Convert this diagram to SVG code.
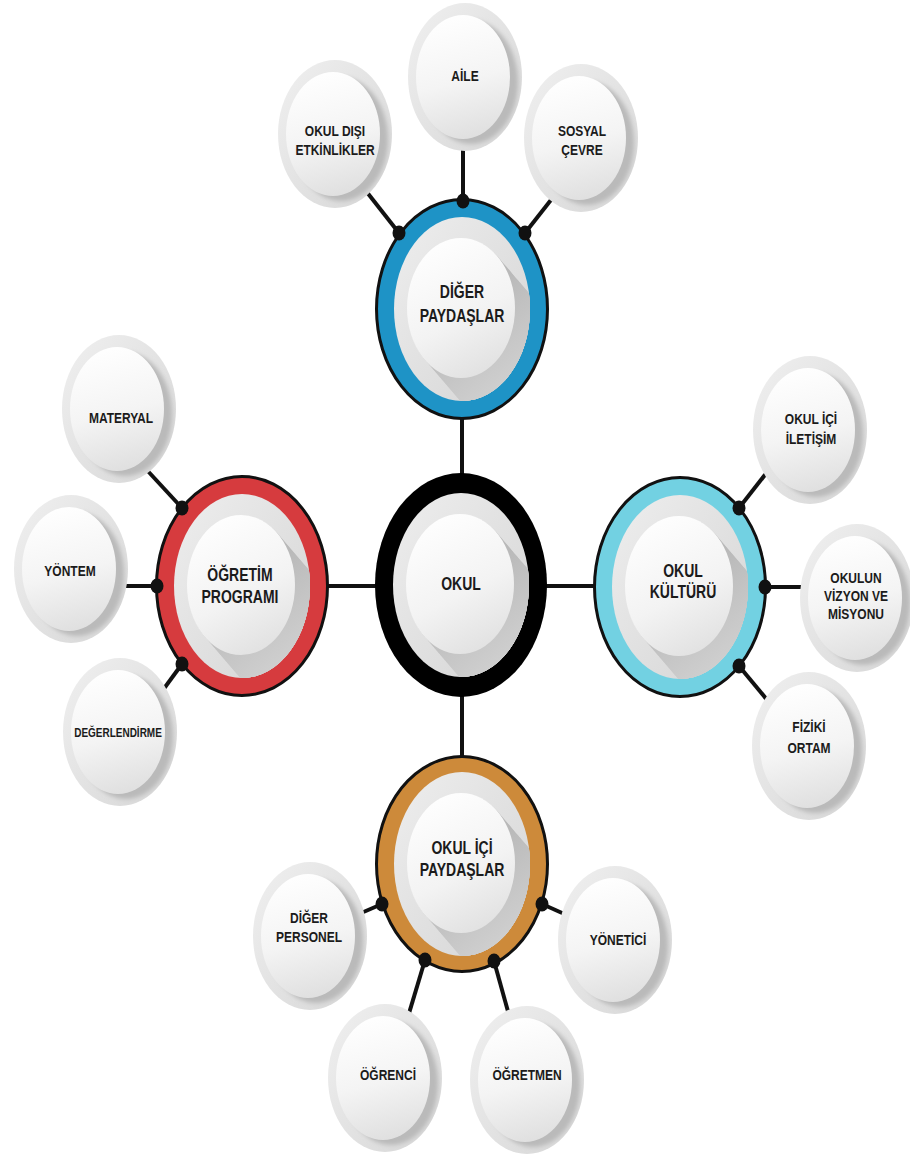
<svg xmlns="http://www.w3.org/2000/svg" xmlns:xlink="http://www.w3.org/1999/xlink" width="910" height="1156" viewBox="0 0 910 1156">
<style>
  .t{font-family:"Liberation Sans","DejaVu Sans",Arial,sans-serif;font-weight:bold;fill:#1b1b1b;text-anchor:middle}
  .h{font-size:14px}
  .s{font-size:12px}
  .band{stroke:#111;stroke-width:3}
  .blue{fill:#1e93c6}.red{fill:#d63b3e}.cyan{fill:#72d1e2}.orange{fill:#cd8a3a}
  .ln{stroke:#111;stroke-width:4;fill:none;stroke-linecap:butt}
  .dot{fill:#111}
</style>
<defs>
  <linearGradient id="ringGrad" x1="0" y1="0" x2="1" y2="1">
    <stop offset="0" stop-color="#eeeeee"/>
    <stop offset="1" stop-color="#d4d4d4"/>
  </linearGradient>
  <linearGradient id="whiteGrad" x1="0.2" y1="0" x2="0.6" y2="1">
    <stop offset="0" stop-color="#ffffff"/>
    <stop offset="0.6" stop-color="#f3f3f3"/>
    <stop offset="1" stop-color="#e2e2e2"/>
  </linearGradient>
  <linearGradient id="hubShadow" gradientUnits="userSpaceOnUse" x1="0" y1="0" x2="70" y2="90">
    <stop offset="0" stop-color="#b9b9b9"/>
    <stop offset="1" stop-color="#d6d6d6"/>
  </linearGradient>
  <linearGradient id="satOuter" x1="0" y1="0" x2="1" y2="1">
    <stop offset="0" stop-color="#f0f0f0"/>
    <stop offset="1" stop-color="#d6d6d6"/>
  </linearGradient>
  <linearGradient id="satInner" x1="0.3" y1="0" x2="0.5" y2="1">
    <stop offset="0" stop-color="#ffffff"/>
    <stop offset="0.55" stop-color="#f4f4f4"/>
    <stop offset="1" stop-color="#e0e0e0"/>
  </linearGradient>
  <clipPath id="hubClip"><ellipse cx="0" cy="0" rx="68" ry="92"/></clipPath>
  <clipPath id="satClip"><ellipse cx="0" cy="0" rx="57" ry="74"/></clipPath>
  <filter id="soft" x="-20%" y="-20%" width="140%" height="140%"><feGaussianBlur stdDeviation="2"/></filter>
  <g id="hubCore">
    <ellipse cx="0" cy="0" rx="68" ry="92" fill="url(#ringGrad)"/>
    <g clip-path="url(#hubClip)" fill="url(#hubShadow)">
      <ellipse cx="0" cy="0" rx="54" ry="70"/>
      <ellipse cx="6" cy="7" rx="54" ry="70"/>
      <ellipse cx="12" cy="14" rx="54" ry="70"/>
      <ellipse cx="18" cy="21" rx="54" ry="70"/>
      <ellipse cx="24" cy="28" rx="54" ry="70"/>
      <ellipse cx="30" cy="35" rx="54" ry="70"/>
      <ellipse cx="36" cy="42" rx="54" ry="70"/>
      <ellipse cx="42" cy="49" rx="54" ry="70"/>
    </g>
    <ellipse cx="-1" cy="-1" rx="54" ry="70" fill="url(#whiteGrad)"/>
  </g>
  <g id="sat">
    <ellipse cx="0" cy="0" rx="57" ry="74" fill="url(#satOuter)"/>
    <g clip-path="url(#satClip)">
      <ellipse cx="6" cy="5" rx="47" ry="62" fill="#bababa" filter="url(#soft)"/>
    </g>
    <ellipse cx="-2" cy="0" rx="47" ry="62" fill="url(#satInner)"/>
  </g>
</defs>
<rect width="910" height="1156" fill="#ffffff"/>

<!-- connector lines (drawn behind the nodes) -->
<g id="connectors">
  <line class="ln" x1="462" y1="309" x2="462" y2="585"/>
  <line class="ln" x1="242" y1="586" x2="680" y2="586"/>
  <line class="ln" x1="462" y1="585" x2="462" y2="864"/>

  <line class="ln" x1="463" y1="201" x2="463" y2="140"/>
  <line class="ln" x1="399" y1="233" x2="366" y2="191"/>
  <line class="ln" x1="525" y1="233" x2="558" y2="191"/>

  <line class="ln" x1="182" y1="508" x2="145" y2="468"/>
  <line class="ln" x1="157" y1="586" x2="115" y2="586"/>
  <line class="ln" x1="182" y1="664" x2="160" y2="694"/>

  <line class="ln" x1="739" y1="508" x2="768" y2="471"/>
  <line class="ln" x1="765" y1="587" x2="815" y2="587"/>
  <line class="ln" x1="739" y1="666" x2="768" y2="701"/>

  <line class="ln" x1="382" y1="904" x2="345" y2="920"/>
  <line class="ln" x1="542" y1="904" x2="580" y2="921"/>
  <line class="ln" x1="425" y1="960" x2="407" y2="1020"/>
  <line class="ln" x1="494" y1="961" x2="509" y2="1015"/>
</g>

<!-- satellites -->
<g id="n-okul-disi"><use href="#sat" transform="translate(335 134)"/>
  <text class="t s" transform="translate(335 136) scale(1 1.28)">OKUL DIŞI</text>
  <text class="t s" transform="translate(335 155) scale(1 1.28)">ETKİNLİKLER</text></g>
<g id="n-aile"><use href="#sat" transform="translate(465 77)"/>
  <text class="t s" transform="translate(465 81) scale(1 1.28)">AİLE</text></g>
<g id="n-sosyal"><use href="#sat" transform="translate(581 138)"/>
  <text class="t s" transform="translate(582 136) scale(1 1.28)">SOSYAL</text>
  <text class="t s" transform="translate(582 155) scale(1 1.28)">ÇEVRE</text></g>
<g id="n-materyal"><use href="#sat" transform="translate(119 409)"/>
  <text class="t s" transform="translate(121 423) scale(1 1.28)">MATERYAL</text></g>
<g id="n-yontem"><use href="#sat" transform="translate(71 569)"/>
  <text class="t s" transform="translate(70 576) scale(1 1.28)">YÖNTEM</text></g>
<g id="n-degerlendirme"><use href="#sat" transform="translate(120 732)"/>
  <text class="t" style="font-size:10px" transform="translate(118 737) scale(1 1.28)">DEĞERLENDİRME</text></g>
<g id="n-iletisim"><use href="#sat" transform="translate(810 430)"/>
  <text class="t s" transform="translate(811 424) scale(1 1.28)">OKUL İÇİ</text>
  <text class="t s" transform="translate(811 444) scale(1 1.28)">İLETİŞİM</text></g>
<g id="n-vizyon"><use href="#sat" transform="translate(857 598)"/>
  <text class="t s" transform="translate(856 583) scale(1 1.28)">OKULUN</text>
  <text class="t s" transform="translate(856 601) scale(1 1.28)">VİZYON VE</text>
  <text class="t s" transform="translate(856 619) scale(1 1.28)">MİSYONU</text></g>
<g id="n-fiziki"><use href="#sat" transform="translate(809 746)"/>
  <text class="t s" transform="translate(809 732) scale(1 1.28)">FİZİKİ</text>
  <text class="t s" transform="translate(809 753) scale(1 1.28)">ORTAM</text></g>
<g id="n-diger-personel"><use href="#sat" transform="translate(310 936)"/>
  <text class="t s" transform="translate(309 923) scale(1 1.28)">DİĞER</text>
  <text class="t s" transform="translate(309 942) scale(1 1.28)">PERSONEL</text></g>
<g id="n-yonetici"><use href="#sat" transform="translate(615 940)"/>
  <text class="t s" transform="translate(618 945) scale(1 1.28)">YÖNETİCİ</text></g>
<g id="n-ogrenci"><use href="#sat" transform="translate(385 1078)"/>
  <text class="t s" transform="translate(388 1080) scale(1 1.28)">ÖĞRENCİ</text></g>
<g id="n-ogretmen"><use href="#sat" transform="translate(527 1080)"/>
  <text class="t s" transform="translate(527 1080) scale(1 1.28)">ÖĞRETMEN</text></g>

<!-- hubs -->
<g id="h-diger-paydaslar">
  <ellipse class="band blue" cx="462" cy="309" rx="85.5" ry="109.5"/>
  <use href="#hubCore" transform="translate(462 309)"/>
  <text class="t h" transform="translate(462 298) scale(1 1.28)">DİĞER</text>
  <text class="t h" transform="translate(462 322) scale(1 1.28)">PAYDAŞLAR</text>
</g>
<g id="h-ogretim">
  <ellipse class="band red" cx="242" cy="586" rx="85.5" ry="109.5"/>
  <use href="#hubCore" transform="translate(242 586)"/>
  <text class="t h" transform="translate(240 581) scale(1 1.28)">ÖĞRETİM</text>
  <text class="t h" transform="translate(240 603) scale(1 1.28)">PROGRAMI</text>
</g>
<g id="h-okul">
  <ellipse cx="461" cy="585" rx="86" ry="112" fill="#000"/>
  <use href="#hubCore" transform="translate(461 585)"/>
  <text class="t h" transform="translate(461 590) scale(1 1.28)">OKUL</text>
</g>
<g id="h-kultur">
  <ellipse class="band cyan" cx="680" cy="587" rx="85.5" ry="109.5"/>
  <use href="#hubCore" transform="translate(680 587)"/>
  <text class="t h" transform="translate(683 577) scale(1 1.28)">OKUL</text>
  <text class="t h" transform="translate(683 598) scale(1 1.28)">KÜLTÜRÜ</text>
</g>
<g id="h-okul-ici">
  <ellipse class="band orange" cx="462" cy="864" rx="85.5" ry="107.5"/>
  <use href="#hubCore" transform="translate(462 864)"/>
  <text class="t h" transform="translate(462 854) scale(1 1.28)">OKUL İÇİ</text>
  <text class="t h" transform="translate(462 876) scale(1 1.28)">PAYDAŞLAR</text>
</g>

<!-- connector junction dots on the hub rings -->
<g id="connector-dots">
  <ellipse class="dot" cx="463" cy="201" rx="6.5" ry="7.5"/>
  <ellipse class="dot" cx="399" cy="233" rx="6.5" ry="7.5"/>
  <ellipse class="dot" cx="525" cy="233" rx="6.5" ry="7.5"/>
  <ellipse class="dot" cx="182" cy="508" rx="6.5" ry="7.5"/>
  <ellipse class="dot" cx="157" cy="586" rx="6.5" ry="7.5"/>
  <ellipse class="dot" cx="182" cy="664" rx="6.5" ry="7.5"/>
  <ellipse class="dot" cx="739" cy="508" rx="6.5" ry="7.5"/>
  <ellipse class="dot" cx="765" cy="587" rx="6.5" ry="7.5"/>
  <ellipse class="dot" cx="739" cy="666" rx="6.5" ry="7.5"/>
  <ellipse class="dot" cx="382" cy="904" rx="6.5" ry="7.5"/>
  <ellipse class="dot" cx="542" cy="904" rx="6.5" ry="7.5"/>
  <ellipse class="dot" cx="425" cy="960" rx="6.5" ry="7.5"/>
  <ellipse class="dot" cx="494" cy="961" rx="6.5" ry="7.5"/>
</g>
</svg>
